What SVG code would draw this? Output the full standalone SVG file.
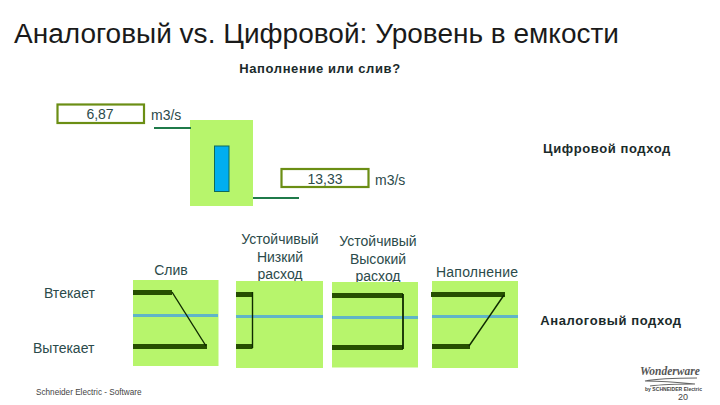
<svg xmlns="http://www.w3.org/2000/svg" width="720" height="405" viewBox="0 0 720 405">
<style>
text{font-family:"Liberation Sans",Arial,sans-serif;fill:#2b4a4a}
.t{fill:#1a1a1a;font-size:27px}
.b{font-weight:bold;font-size:13px;fill:#1a2a2a;letter-spacing:.6px}
.l{font-size:14px}
.m{text-anchor:middle}
.box{fill:#fff;stroke:#6b8e14;stroke-width:2.2}
.p{fill:#b7f56c}
.lvl{fill:none;stroke:#5fb4c8;stroke-width:3}
.bar{fill:none;stroke:#264f00;stroke-width:5}
.v{fill:none;stroke:#0f2a00;stroke-width:1.4}
.pipe{fill:none;stroke:#1f7a4a;stroke-width:2}
</style>
<rect width="720" height="405" fill="#fff"/>
<text class="t" x="14" y="43" textLength="605" lengthAdjust="spacingAndGlyphs">Аналоговый vs. Цифровой: Уровень в емкости</text>
<text class="b" x="320" y="73" text-anchor="middle">Наполнение или слив?</text>
<text class="b" x="607" y="153" text-anchor="middle">Цифровой подход</text>
<text class="b" x="611" y="325" text-anchor="middle">Аналоговый подход</text>

<g id="tank"><rect x="190" y="120" width="63" height="86" class="p"/><rect x="214.5" y="146" width="14.5" height="45.5" fill="#00aeef" stroke="#0f6a5a" stroke-width="1"/></g>
<g id="input-flow"><rect x="57.5" y="104.5" width="86.5" height="18.5" class="box"/><text class="l m" x="100" y="119">6,87</text><text class="l" x="151" y="120">m3/s</text></g>
<g id="output-flow"><rect x="281.5" y="169" width="87" height="18" class="box"/><text class="l m" x="325" y="184">13,33</text><text class="l" x="375" y="185">m3/s</text></g>

<g id="connectors">
<path class="pipe" d="M154 128H191"/>
<path class="pipe" d="M253 198H299"/>
</g>

<g id="labels">
<text class="l m" x="171" y="275">Слив</text>
<text class="l m" x="280" y="244">Устойчивый</text><text class="l m" x="280" y="262">Низкий</text><text class="l m" x="280" y="279">расход</text>
<text class="l m" x="378" y="246">Устойчивый</text><text class="l m" x="378" y="264">Высокий</text><text class="l m" x="378" y="281">расход</text>
<text class="l" x="436" y="277" textLength="82">Наполнение</text>
<text class="l" x="44" y="298">Втекает</text>
<text class="l" x="33" y="353">Вытекает</text>
</g>

<g id="panel-drain"><rect x="133" y="280" width="85.500" height="86" class="p"/><path class="lvl" d="M133 315.500H218"/><path class="bar" d="M133 292.500H172M133 346.500H207"/><path class="v" d="M172 292L206 346"/></g>
<g id="panel-low"><rect x="236" y="281" width="87" height="87" class="p"/><path class="lvl" d="M236 316.500H323"/><path class="bar" d="M236 294.500H252.500M236 346.500H252.500"/><path class="v" d="M252.500 292V348"/></g>
<g id="panel-high"><rect x="332" y="282" width="86" height="85.500" class="p"/><path class="lvl" d="M332 317.500H418"/><path class="bar" d="M332 295.500H403M332 347.500H403"/><path class="v" d="M403 294V349" style="stroke-width:1.800"/></g>
<g id="panel-fill"><rect x="432" y="281" width="86" height="87" class="p"/><path class="lvl" d="M432 316.500H518"/><path class="bar" d="M431 294.500H505M432 346.500H470"/><path class="v" d="M504 295L469 346"/></g>

<g id="footer">
<text x="640" y="375" style="font-family:'Liberation Serif',serif;font-style:italic;font-weight:bold;font-size:11.500px;fill:#555">Wonderware</text>
<path d="M697 378Q660 378 645 381Q665 381 695 384Q665 384 650 386" fill="none" stroke="#666" stroke-width="1.200"/>
<text x="36" y="395" style="font-size:8.2px;fill:#444">Schneider Electric - Software</text>
<text x="645" y="391" textLength="57" style="font-size:5px;font-weight:bold;fill:#444">by SCHNEIDER Electric</text>
<text x="678" y="400" style="font-size:9px;fill:#444">20</text>
</g>
</svg>
